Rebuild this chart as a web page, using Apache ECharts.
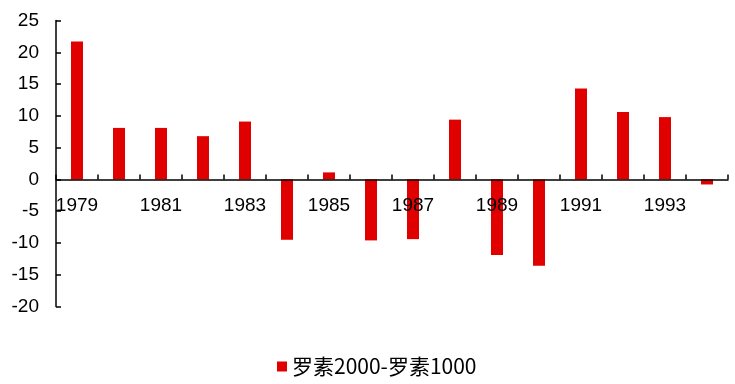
<!DOCTYPE html>
<html>
<head>
<meta charset="utf-8">
<script src="https://cdn.jsdelivr.net/npm/echarts@6/dist/echarts.min.js"></script>
<style>html,body{margin:0;padding:0;background:#fff}#c{width:735px;height:384px}</style>
</head>
<body>
<div id="c"></div>
<script>
const categories = ['1979','1980','1981','1982','1983','1984','1985','1986','1987','1988','1989','1990','1991','1992','1993','1994'];
const seriesName = '罗素2000-罗素1000';
const values = [21.7, 8.1, 8.1, 6.8, 9.1, -9.5, 1.1, -9.6, -9.4, 9.4, -11.9, -13.6, 14.3, 10.6, 9.8, -0.8];
const yTicks = { min: -20, max: 25, interval: 5 };

const W = 735, H = 384;
const gridTop = 20.5, gridBottom = 77.5;
const plotH = H - gridTop - gridBottom;
// place the category axis (line + labels) at value 0
const zeroOffset = -plotH * (0 - yTicks.min) / (yTicks.max - yTicks.min);

const chart = echarts.init(document.getElementById('c'), null, { renderer: 'canvas' });
const font = '"Liberation Sans", Arial, "Noto Sans CJK SC", sans-serif';
chart.setOption({
  animation: false,
  backgroundColor: '#ffffff',
  grid: { left: 56, right: 7, top: gridTop, bottom: gridBottom, containLabel: false },
  legend: {
    data: [seriesName],
    left: 272, top: 351,
    icon: 'rect', itemWidth: 10, itemHeight: 10, itemGap: 7,
    textStyle: { fontFamily: '"Noto Sans CJK SC", "Liberation Sans", sans-serif', fontSize: 21, color: '#000' }
  },
  xAxis: {
    type: 'category',
    data: categories,
    position: 'bottom',
    offset: zeroOffset,
    z: 5,
    axisLine: { onZero: false, lineStyle: { color: '#000', width: 1.5 } },
    axisTick: { show: true, inside: true, length: 5, alignWithLabel: false, interval: 0, lineStyle: { color: '#000', width: 1.5 } },
    axisLabel: { interval: 1, margin: 17, fontSize: 19, fontFamily: font, color: '#000' },
    splitLine: { show: false }
  },
  yAxis: {
    type: 'value',
    min: yTicks.min, max: yTicks.max, interval: yTicks.interval,
    axisLine: { show: true, lineStyle: { color: '#000', width: 1.5 } },
    axisTick: { show: true, inside: true, length: 5, lineStyle: { color: '#000', width: 1.5 } },
    axisLabel: { margin: 17, fontSize: 19, fontFamily: font, color: '#000' },
    splitLine: { show: false }
  },
  series: [{
    name: seriesName,
    type: 'bar',
    data: values,
    barWidth: 12,
    z: 2,
    itemStyle: { color: '#e10000' }
  }]
});
</script>
</body>
</html>
